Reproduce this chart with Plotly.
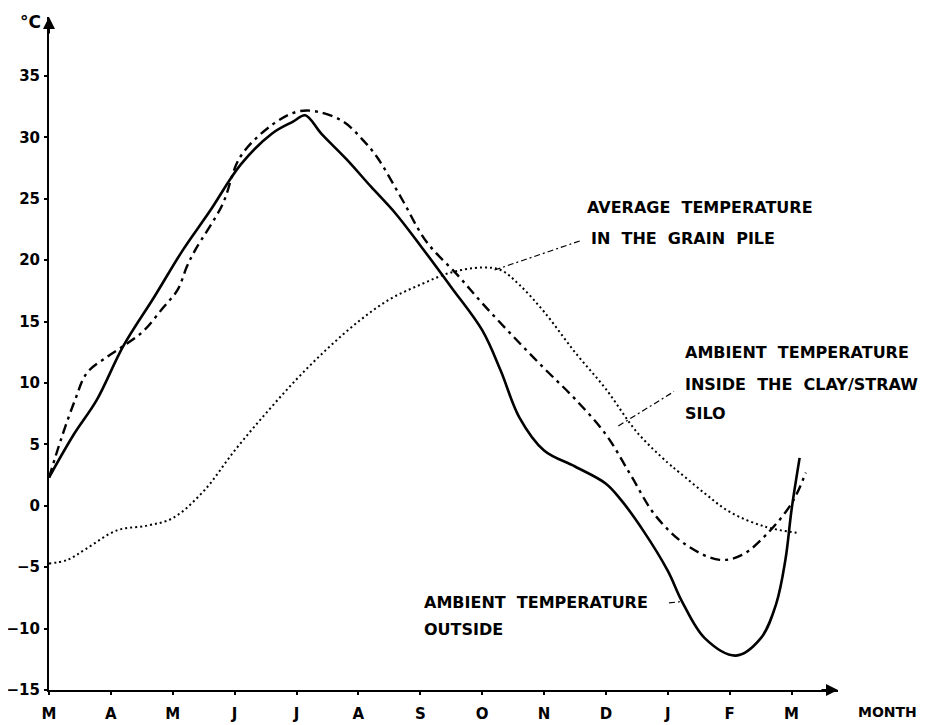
import plotly.graph_objects as go

# month index 0 = March ... 12 = March of the next year
month_labels = ["M", "A", "M", "J", "J", "A", "S", "O", "N", "D", "J", "F", "M"]
temp_ticks = [-15, -10, -5, 0, 5, 10, 15, 20, 25, 30, 35]

# ambient temperature outside (solid)
out_month = [0, 0.4, 0.77, 1.2, 1.7, 2.16, 2.6, 3.1, 3.6, 3.95, 4.14, 4.4, 4.81, 5.2, 5.6,
             6.0, 6.5, 7.0, 7.3, 7.6, 8.0, 8.5, 9.0, 9.24, 9.6, 10.0, 10.23, 10.6, 11.1,
             11.5, 11.75, 11.9, 12.0, 12.13]
out_temp = [2.3, 5.8, 8.6, 13.0, 17.0, 20.8, 24.0, 27.8, 30.3, 31.3, 31.8, 30.3, 28.2, 26.0, 23.8,
            21.2, 17.8, 14.3, 11.0, 7.2, 4.5, 3.2, 1.8, 0.5, -2.0, -5.3, -7.8, -10.8, -12.2,
            -10.8, -8.0, -4.4, -0.3, 3.9]

# ambient temperature inside the clay/straw silo (dash-dot)
silo_month = [0, 0.2, 0.42, 0.61, 0.93, 1.2, 1.52, 1.84, 2.08, 2.23, 2.36, 2.8, 3.09, 3.6, 4.02,
              4.33, 4.75, 5.07, 5.3, 5.7, 6.1, 6.6, 7.0, 7.5, 8.0, 8.5, 9.0, 9.4, 9.8, 10.3,
              10.84, 11.2, 11.6, 12.0, 12.23]
silo_temp = [2.3, 5.5, 8.6, 10.8, 12.1, 13.0, 14.2, 16.1, 17.6, 19.5, 20.8, 24.5, 28.4, 31.0, 32.1,
             32.1, 31.3, 29.8, 28.4, 25.0, 21.5, 18.8, 16.5, 13.8, 11.2, 8.7, 5.8, 2.5, -0.8, -3.2,
             -4.4, -4.0, -2.3, 0.2, 2.7]

# average temperature in the grain pile (dotted)
pile_month = [0, 0.3, 0.6, 1.1, 1.6, 2.0, 2.5, 3.0, 3.5, 4.0, 4.5, 5.0, 5.5, 6.0, 6.5, 7.0, 7.3,
              7.6, 8.0, 8.5, 9.0, 9.5, 10.0, 10.19, 10.6, 11.0, 11.57, 12.08]
pile_temp = [-4.7, -4.4, -3.5, -2.0, -1.6, -1.0, 1.2, 4.5, 7.5, 10.3, 12.8, 15.0, 16.8, 18.0, 19.0,
             19.4, 19.2, 18.0, 15.8, 12.5, 9.5, 6.0, 3.5, 2.7, 1.0, -0.5, -1.7, -2.2]

FONT = "DejaVu Sans"
INK = "black"

fig = go.Figure()
fig.add_trace(go.Scatter(x=out_month, y=out_temp, mode="lines", line_shape="spline",
                         line=dict(color=INK, width=2.6), name="outside"))
fig.add_trace(go.Scatter(x=silo_month, y=silo_temp, mode="lines", line_shape="spline",
                         line=dict(color=INK, width=2.4, dash="10px,5px,3px,5px"), name="silo"))
fig.add_trace(go.Scatter(x=pile_month, y=pile_temp, mode="lines", line_shape="spline",
                         line=dict(color=INK, width=2, dash="2px,3px"), name="pile"))

# leader lines from the labels to the curves
leaders = [
    ((7.2, 19.2), (8.6, 21.6)),
    ((9.2, 6.5), (10.1, 9.3)),
    ((10.02, -7.9), (10.23, -7.8)),
]
for (x0, y0), (x1, y1) in leaders:
    fig.add_shape(type="line", x0=x0, y0=y0, x1=x1, y1=y1, xref="x", yref="y",
                  line=dict(color=INK, width=1.2, dash="6px,3px,2px,3px"))

labels = [
    (8.66, 24.3, "AVERAGE  TEMPERATURE"),
    (8.72, 21.8, "IN  THE  GRAIN  PILE"),
    (10.24, 12.5, "AMBIENT  TEMPERATURE"),
    (10.24, 9.9, "INSIDE  THE  CLAY/STRAW"),
    (10.24, 7.5, "SILO"),
    (6.03, -7.9, "AMBIENT  TEMPERATURE"),
    (6.03, -10.1, "OUTSIDE"),
]
for lx, ly, txt in labels:
    fig.add_annotation(x=lx, y=ly, text=txt, showarrow=False, xanchor="left", yanchor="middle",
                       font=dict(family=FONT, size=16, color=INK, weight="bold"))

# axis arrows and unit labels
fig.add_annotation(x=0, y=39.8, ax=0, ay=18, text="", showarrow=True, arrowhead=2,
                   arrowsize=1.2, arrowwidth=2, arrowcolor=INK)
fig.add_annotation(x=12.75, y=-15, ax=-18, ay=0, text="", showarrow=True, arrowhead=2,
                   arrowsize=1.2, arrowwidth=2, arrowcolor=INK)
fig.add_annotation(xref="paper", yref="paper", x=-0.008, y=0.993, text="°C", showarrow=False,
                   xanchor="right", yanchor="middle",
                   font=dict(family=FONT, size=17, color=INK, weight="bold"))
fig.add_annotation(xref="paper", yref="paper", x=1.063, y=-0.033, text="MONTH", showarrow=False,
                   xanchor="center", yanchor="middle",
                   font=dict(family=FONT, size=14, color=INK, weight="bold"))

# the page puts the figure 8px in from the top-left corner
fig.update_layout(
    width=931, height=725,
    margin=dict(l=41, r=101, t=9, b=43, autoexpand=False),
    paper_bgcolor="white", plot_bgcolor="white",
    showlegend=False,
)
fig.update_xaxes(range=[0, 12.75], tickvals=list(range(13)), ticktext=month_labels,
                 showline=True, linecolor=INK, linewidth=2, ticks="outside", ticklen=3,
                 tickwidth=2, tickcolor=INK, showgrid=False, zeroline=False, automargin=False,
                 ticklabelstandoff=6, tickfont=dict(family=FONT, size=15, color=INK, weight="bold"))
fig.update_yaxes(range=[-15, 39.8], tickvals=temp_ticks,
                 showline=True, linecolor=INK, linewidth=2, ticks="outside", ticklen=3,
                 tickwidth=2, tickcolor=INK, showgrid=False, zeroline=False, automargin=False,
                 ticklabelstandoff=1, tickfont=dict(family=FONT, size=15, color=INK, weight="bold"))

fig.write_html("out.html")
